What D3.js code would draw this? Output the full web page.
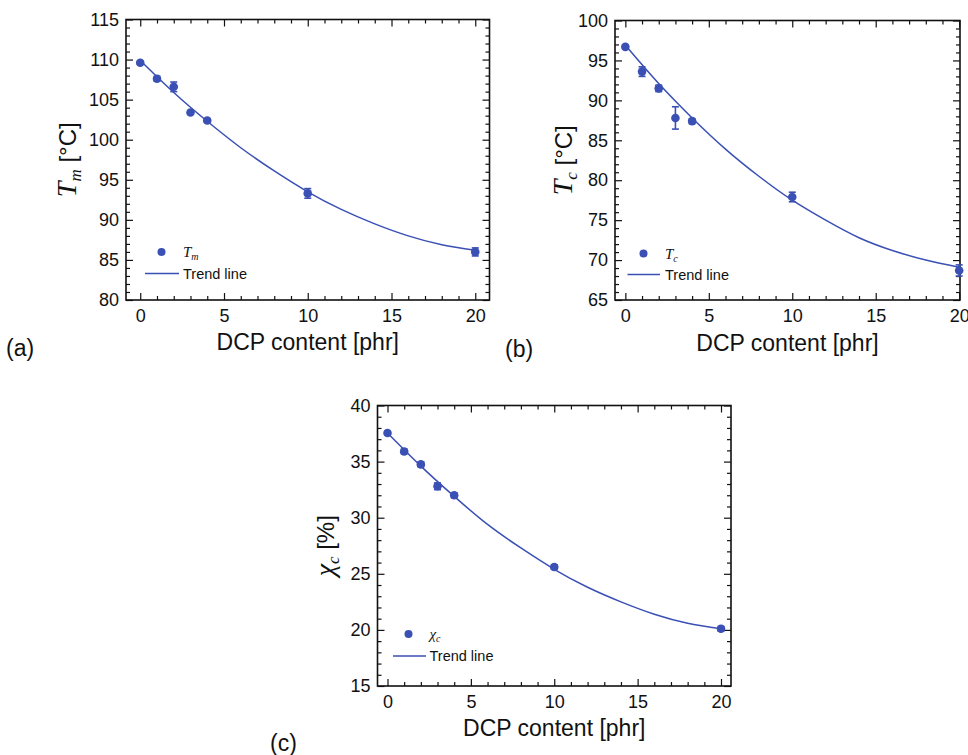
<!DOCTYPE html>
<html><head><meta charset="utf-8">
<script src="https://cdn.jsdelivr.net/npm/d3@7"></script>
<style>
body{margin:0;background:#fff}
svg{display:block}
text{font-family:Arial,"Liberation Sans",sans-serif;fill:#111}
</style>
</head><body><svg id="chart" width="968" height="755"></svg>
<script>
// ---------- data ----------
const dcpContent = [0, 1, 2, 3, 4, 10, 20];
const tmValues = [109.6, 107.6, 106.6, 103.4, 102.4, 93.3, 86.0];
const tmErrors = [0.2, 0.3, 0.6, 0.2, 0.2, 0.6, 0.5];
const tcValues = [96.7, 93.6, 91.5, 87.8, 87.4, 77.9, 68.7];
const tcErrors = [0.2, 0.6, 0.4, 1.4, 0.3, 0.6, 0.7];
const xcValues = [37.55, 35.9, 34.75, 32.8, 32.0, 25.6, 20.1];
const xcErrors = [0.15, 0.2, 0.2, 0.3, 0.2, 0.2, 0.2];
const trendX  = [0, 2, 4, 6, 8, 10, 12, 14, 16, 18, 20];
const tmTrend = [109.9, 105.9, 102.3, 99.0, 96.1, 93.5, 91.3, 89.5, 88.0, 86.9, 86.2];
const tcTrend = [96.9, 92.1, 87.8, 83.9, 80.5, 77.5, 75.0, 72.8, 71.2, 70.0, 69.1];
const xcTrend = [37.55, 34.6, 31.9, 29.4, 27.3, 25.4, 23.8, 22.5, 21.4, 20.6, 20.1];
const xTicks  = [0, 5, 10, 15, 20];
const tmTicks = [80, 85, 90, 95, 100, 105, 110, 115];
const tcTicks = [65, 70, 75, 80, 85, 90, 95, 100];
const xcTicks = [15, 20, 25, 30, 35, 40];
const panelLabels = ["(a)", "(b)", "(c)"];
const xTitle = "DCP content [phr]";
const trendLabel = "Trend line";

// ---------- layout / style ----------
const COLOR = "#3a50b4";
const panels = [
  {values: tmValues, errors: tmErrors, trend: tmTrend, yTicks: tmTicks,
   sym: "T", sub: "m", unit: " [°C]",
   left: 126, right: 489.5, top: 19.5, bottom: 300, xDom: [-0.85, 20.85],
   label: [6, 356], yTitleX: 76, xTitleY: 350,
   leg: {dotX: 161.5, dotY: 252, lineX1: 145, lineX2: 179, lineY: 273.5, textX: 183}},
  {values: tcValues, errors: tcErrors, trend: tcTrend, yTicks: tcTicks,
   sym: "T", sub: "c", unit: " [°C]",
   left: 615, right: 960, top: 20.5, bottom: 300, xDom: [-0.62, 20.05],
   label: [505, 357], yTitleX: 572, xTitleY: 351,
   leg: {dotX: 643.5, dotY: 253.5, lineX1: 627.5, lineX2: 660, lineY: 274.5, textX: 665}},
  {values: xcValues, errors: xcErrors, trend: xcTrend, yTicks: xcTicks,
   sym: "χ", sub: "c", unit: " [%]",
   left: 377.5, right: 731, top: 405.5, bottom: 686, xDom: [-0.6, 20.6],
   label: [270, 751], yTitleX: 334, xTitleY: 736,
   leg: {dotX: 408.5, dotY: 634, lineX1: 393, lineX2: 426, lineY: 656, textX: 429.5}}
];

const svg = d3.select("#chart");
svg.append("rect").attr("width", 968).attr("height", 755).attr("fill", "#fff");

panels.forEach((p, i) => {
  const x = d3.scaleLinear().domain(p.xDom).range([p.left, p.right]);
  const y = d3.scaleLinear().domain([p.yTicks[0], p.yTicks[p.yTicks.length - 1]]).range([p.bottom, p.top]);
  const g = svg.append("g");

  const xMinor = d3.range(0, 21, 1).filter(v => v % 5 !== 0 && v >= p.xDom[0] && v <= p.xDom[1]);
  const yMinor = d3.range(p.yTicks[0], p.yTicks[p.yTicks.length - 1] + 0.001, 1).filter(v => v % 5 !== 0);

  const styleAxis = sel => {
    sel.select(".domain").remove();
    sel.selectAll("line").attr("stroke", "#111").attr("stroke-width", 1.2);
    sel.selectAll("text").attr("fill", "#111").attr("font-size", 18)
       .attr("font-family", "Arial, 'Liberation Sans', sans-serif");
  };
  // major ticks with labels
  g.append("g").attr("transform", `translate(0,${p.bottom})`)
    .call(d3.axisBottom(x).tickValues(xTicks).tickSizeInner(-7).tickSizeOuter(0).tickPadding(9))
    .call(styleAxis);
  g.append("g").attr("transform", `translate(${p.left},0)`)
    .call(d3.axisLeft(y).tickValues(p.yTicks).tickSizeInner(-7).tickSizeOuter(0).tickPadding(7))
    .call(styleAxis);
  // mirrored major ticks
  g.append("g").attr("transform", `translate(0,${p.top})`)
    .call(d3.axisTop(x).tickValues(xTicks).tickSizeInner(-7).tickSizeOuter(0).tickFormat(""))
    .call(styleAxis);
  g.append("g").attr("transform", `translate(${p.right},0)`)
    .call(d3.axisRight(y).tickValues(p.yTicks).tickSizeInner(-7).tickSizeOuter(0).tickFormat(""))
    .call(styleAxis);
  // minor ticks
  [[d3.axisBottom(x).tickValues(xMinor), `translate(0,${p.bottom})`],
   [d3.axisTop(x).tickValues(xMinor), `translate(0,${p.top})`],
   [d3.axisLeft(y).tickValues(yMinor), `translate(${p.left},0)`],
   [d3.axisRight(y).tickValues(yMinor), `translate(${p.right},0)`]].forEach(([ax, tr]) => {
    g.append("g").attr("transform", tr)
      .call(ax.tickSizeInner(-4).tickSizeOuter(0).tickFormat(""))
      .call(styleAxis);
  });
  // frame
  g.append("rect").attr("x", p.left).attr("y", p.top)
    .attr("width", p.right - p.left).attr("height", p.bottom - p.top)
    .attr("fill", "none").attr("stroke", "#111").attr("stroke-width", 1.6);

  // trend line
  const line = d3.line().x((d, k) => x(trendX[k])).y(d => y(d)).curve(d3.curveNatural);
  g.append("path").datum(p.trend).attr("d", line)
    .attr("fill", "none").attr("stroke", COLOR).attr("stroke-width", 1.5);

  // error bars and points
  const pts = dcpContent.map((d, k) => ({x: d, v: p.values[k], e: p.errors[k]}));
  const eb = g.append("g").attr("stroke", COLOR).attr("stroke-width", 1.6);
  pts.forEach(d => {
    eb.append("line").attr("x1", x(d.x)).attr("x2", x(d.x)).attr("y1", y(d.v - d.e)).attr("y2", y(d.v + d.e));
    [d.v - d.e, d.v + d.e].forEach(t => {
      eb.append("line").attr("x1", x(d.x) - 3.5).attr("x2", x(d.x) + 3.5).attr("y1", y(t)).attr("y2", y(t));
    });
  });
  g.append("g").selectAll("circle").data(pts).join("circle")
    .attr("cx", d => x(d.x)).attr("cy", d => y(d.v)).attr("r", 4.3).attr("fill", COLOR);

  // legend
  const L = p.leg;
  g.append("circle").attr("cx", L.dotX).attr("cy", L.dotY).attr("r", 4).attr("fill", COLOR);
  const lt = g.append("text").attr("x", L.textX).attr("y", L.dotY + 5);
  lt.append("tspan").text(p.sym).attr("font-family", "'Liberation Serif','Times New Roman',serif")
    .attr("font-style", "italic").attr("font-size", 15);
  lt.append("tspan").text(p.sub).attr("font-family", "'Liberation Serif','Times New Roman',serif")
    .attr("font-style", "italic").attr("font-size", 10).attr("dy", 3);
  g.append("line").attr("x1", L.lineX1).attr("x2", L.lineX2).attr("y1", L.lineY).attr("y2", L.lineY)
    .attr("stroke", COLOR).attr("stroke-width", 1.5);
  g.append("text").attr("x", L.textX).attr("y", L.lineY + 5).attr("font-size", 14.5).text(trendLabel);

  // axis titles
  g.append("text").attr("x", (p.left + p.right) / 2).attr("y", p.xTitleY)
    .attr("text-anchor", "middle").attr("font-size", 23).text(xTitle);
  const yt = g.append("text")
    .attr("transform", `translate(${p.yTitleX},${(p.top + p.bottom) / 2}) rotate(-90)`)
    .attr("text-anchor", "middle").attr("font-size", 24);
  yt.append("tspan").text(p.sym).attr("font-family", "'Liberation Serif','Times New Roman',serif")
    .attr("font-style", "italic").attr("font-size", 28);
  yt.append("tspan").text(p.sub).attr("font-family", "'Liberation Serif','Times New Roman',serif")
    .attr("font-style", "italic").attr("font-size", 17).attr("dy", 5);
  yt.append("tspan").text(p.unit).attr("dy", -5);

  // panel label
  svg.append("text").attr("x", p.label[0]).attr("y", p.label[1]).attr("font-size", 23).text(panelLabels[i]);
});
</script>
</body></html>
